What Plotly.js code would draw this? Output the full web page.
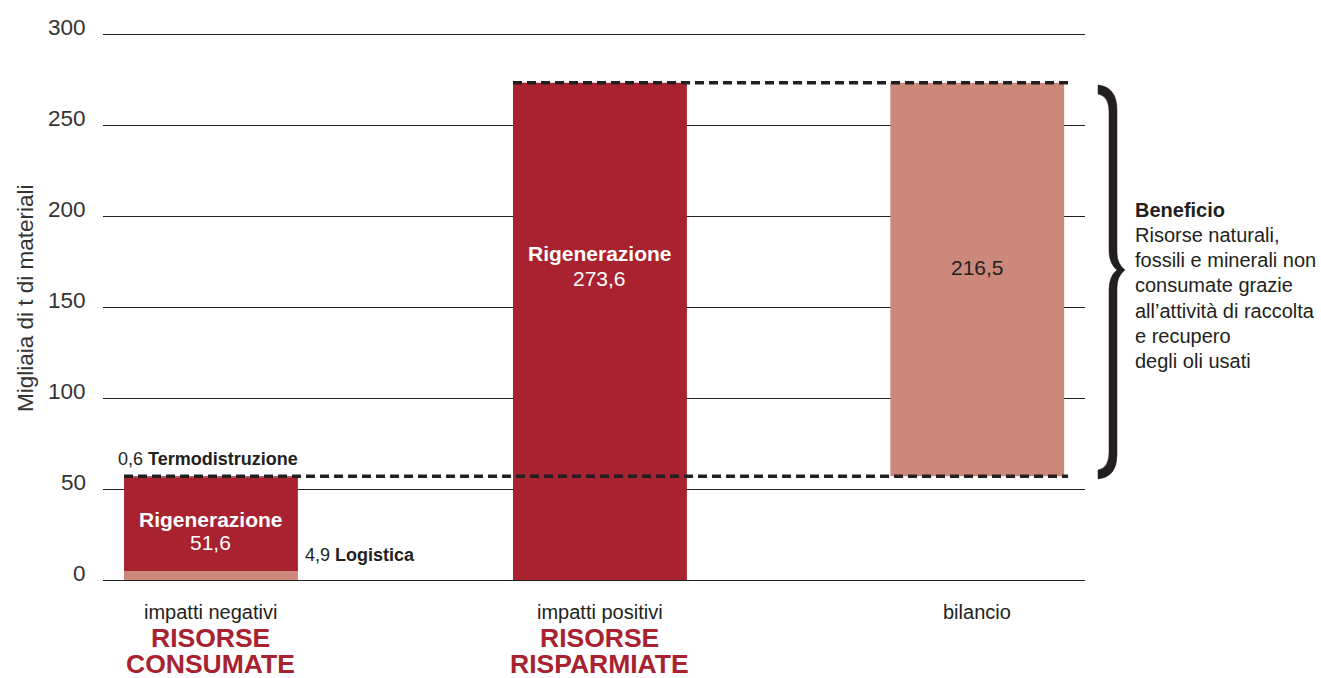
<!DOCTYPE html>
<html>
<head>
<meta charset="utf-8">
<script src="https://cdn.plot.ly/plotly-3.0.1.min.js"></script>
<style>
  html, body { margin: 0; padding: 0; background: #fff; }
  #chart { width: 1321px; height: 678px; }
</style>
</head>
<body>
<div id="chart"></div>
<script>
// ---- data ----
const categories = ["impatti negativi", "impatti positivi", "bilancio"];
const groupTitles = [["RISORSE", "CONSUMATE"], ["RISORSE", "RISPARMIATE"], []];
const negLabels = ["Logistica", "Rigenerazione", "Termodistruzione"];
const negValues = [4.9, 51.6, 0.6];
const posLabels = ["Rigenerazione"];
const posValues = [273.6];
const balanceValue = 216.5;
const yTicks = [0, 50, 100, 150, 200, 250, 300];
const yTitle = "Migliaia di t di materiali";
const noteTitle = "Beneficio";
const noteLines = ["Risorse naturali,", "fossili e minerali non", "consumate grazie",
                   "all\u2019attività di raccolta", "e recupero", "degli oli usati"];

// ---- layout constants ----
const xPos = [0, 1, 1.97];
const barW = 0.447;
const DARK = "#a8222f";
const LIGHT = "#cd887c";
const INK = "#231f20";
const FONT = "Liberation Sans, Arial, Helvetica, sans-serif";
const fmt = v => v.toFixed(1).replace(".", ",");
const Y_MAX = 301.5, TOP = 32, BOTTOM = 580, PLOT_H = BOTTOM - TOP;

const negTotal = negValues.reduce((a, b) => a + b, 0);
const posTotal = posValues.reduce((a, b) => a + b, 0);

const traces = [];
const negColors = [LIGHT, DARK, DARK];
let base = 0;
negValues.forEach((v, i) => {
  traces.push({
    type: "bar", x: [xPos[0]], y: [v], base: [base], width: barW,
    marker: { color: negColors[i], line: { width: 0 } },
    name: negLabels[i], showlegend: false
  });
  base += v;
});
traces.push({
  type: "bar", x: [xPos[1]], y: [posValues[0]], base: [0], width: barW,
  marker: { color: DARK, line: { width: 0 } }, name: posLabels[0], showlegend: false
});
traces.push({
  type: "bar", x: [xPos[2]], y: [balanceValue], base: [negTotal], width: barW,
  marker: { color: LIGHT, line: { width: 0 } }, name: categories[2], showlegend: false
});

const shapes = [
  { type: "line", xref: "x", yref: "y", x0: xPos[0] - barW / 2, x1: xPos[2] + barW / 2 + 0.01,
    y0: negTotal, y1: negTotal, line: { color: INK, width: 3.5, dash: "9px,5px" } },
  { type: "line", xref: "x", yref: "y", x0: xPos[1] - barW / 2, x1: xPos[2] + barW / 2 + 0.01,
    y0: posTotal, y1: posTotal, line: { color: INK, width: 3.5, dash: "9px,5px" } }
];

// helpers: page pixel -> paper coordinates
const px = p => (p - 103) / 982;
const pp = p => (BOTTOM - p) / PLOT_H;
const P = (x, y) => px(x) + "," + pp(y);
// curly brace "}" spanning the balance bar
const brace = `M ${P(1098, 85)} Q ${P(1117, 87)} ${P(1117, 110)} L ${P(1117, 252)} ` +
  `Q ${P(1117, 264)} ${P(1125, 270)} Q ${P(1117, 276)} ${P(1117, 288)} L ${P(1117, 455)} ` +
  `Q ${P(1117, 477)} ${P(1098, 479)} L ${P(1098, 470)} Q ${P(1109, 468)} ${P(1109, 452)} ` +
  `L ${P(1109, 290)} Q ${P(1109, 276)} ${P(1117, 270)} Q ${P(1109, 264)} ${P(1109, 250)} ` +
  `L ${P(1109, 112)} Q ${P(1109, 96)} ${P(1098, 94)} Z`;
shapes.push({ type: "path", xref: "paper", yref: "paper", path: brace,
  fillcolor: INK, line: { color: INK, width: 0.5 } });

const annotations = [];
// y tick labels (slightly above each grid line)
yTicks.forEach(t => {
  annotations.push({ x: px(88), y: t, xref: "paper", yref: "y", xanchor: "right", yanchor: "middle",
    yshift: 7, text: String(t), showarrow: false, font: { family: FONT, size: 22.5, color: "#333" } });
});
// y axis title
annotations.push({ x: px(25), y: pp(298), xref: "paper", yref: "paper", textangle: -90,
  xanchor: "center", yanchor: "middle", text: yTitle, showarrow: false,
  font: { family: FONT, size: 22.5, color: "#333" } });

// bar-internal labels
const negLabY = negValues[0] + negValues[1] * 0.555;
annotations.push({ x: xPos[0], y: negLabY, xref: "x", yref: "y",
  text: "<b>" + negLabels[1] + "</b>", showarrow: false, font: { family: FONT, size: 21, color: "#fff" } });
annotations.push({ x: xPos[0], y: negLabY, xref: "x", yref: "y", yshift: -23,
  text: fmt(negValues[1]), showarrow: false, font: { family: FONT, size: 21, color: "#fff" } });
annotations.push({ x: xPos[0] - barW / 2, y: negTotal, xref: "x", yref: "y", xanchor: "left", yanchor: "middle",
  xshift: -8, yshift: 17,
  text: fmt(negValues[2]) + " <b>" + negLabels[2] + "</b>", showarrow: false,
  font: { family: FONT, size: 18, color: INK } });
annotations.push({ x: xPos[0] + barW / 2, y: 0, xref: "x", yref: "y", xanchor: "left", yanchor: "middle",
  xshift: 5, yshift: 25,
  text: fmt(negValues[0]) + " <b>" + negLabels[0] + "</b>", showarrow: false,
  font: { family: FONT, size: 18, color: INK } });
annotations.push({ x: xPos[1], y: pp(253), xref: "x", yref: "paper",
  text: "<b>" + posLabels[0] + "</b>", showarrow: false, font: { family: FONT, size: 21, color: "#fff" } });
annotations.push({ x: xPos[1], y: pp(253), xref: "x", yref: "paper", yshift: -25,
  text: fmt(posValues[0]), showarrow: false, font: { family: FONT, size: 21, color: "#fff" } });
annotations.push({ x: xPos[2], y: pp(267), xref: "x", yref: "paper",
  text: fmt(balanceValue), showarrow: false, font: { family: FONT, size: 21, color: INK } });

// category labels below the axis
categories.forEach((c, i) => {
  annotations.push({ x: xPos[i], y: pp(612), xref: "x", yref: "paper", yanchor: "middle",
    text: c, showarrow: false, font: { family: FONT, size: 20, color: INK } });
  groupTitles[i].forEach((t, j) => {
    annotations.push({ x: xPos[i], y: pp(638 + j * 26), xref: "x", yref: "paper", yanchor: "middle",
      text: "<b>" + t + "</b>", showarrow: false, font: { family: FONT, size: 26.5, color: DARK } });
  });
});

// side note
annotations.push({ x: px(1133), y: pp(210), xref: "paper", yref: "paper", xanchor: "left", yanchor: "middle",
  text: "<b>" + noteTitle + "</b>", showarrow: false, font: { family: FONT, size: 20, color: INK } });
noteLines.forEach((t, i) => {
  annotations.push({ x: px(1133), y: pp(235 + i * 25.2), xref: "paper", yref: "paper",
    xanchor: "left", yanchor: "middle",
    text: t, showarrow: false, font: { family: FONT, size: 20, color: INK } });
});

const layout = {
  width: 1321, height: 678,
  margin: { l: 103, r: 236, t: TOP, b: 678 - BOTTOM, pad: 0 },
  paper_bgcolor: "#fff", plot_bgcolor: "#fff",
  barmode: "overlay",
  showlegend: false,
  font: { family: FONT, color: INK },
  xaxis: { range: [-0.2776, 2.247], showticklabels: false, showgrid: false, zeroline: false,
           showline: false, ticks: "", fixedrange: true },
  yaxis: { range: [0, Y_MAX], tickvals: yTicks, showticklabels: false,
           showgrid: true, gridcolor: INK, gridwidth: 1,
           zeroline: true, zerolinecolor: INK, zerolinewidth: 1,
           showline: false, ticks: "", fixedrange: true },
  shapes: shapes,
  annotations: annotations
};

Plotly.newPlot("chart", traces, layout, { displayModeBar: false, staticPlot: true });
</script>
</body>
</html>
